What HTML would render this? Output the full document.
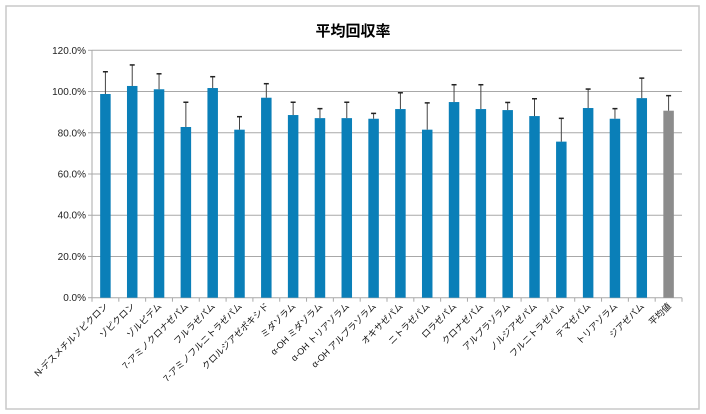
<!DOCTYPE html>
<html><head><meta charset="utf-8"><style>
body{margin:0;background:#fff;}
svg{display:block;font-family:"Liberation Sans","Noto Sans CJK JP",sans-serif;}
</style></head><body>
<svg id="chart" width="706" height="414">
<rect x="6" y="6" width="693" height="403" fill="#fff" stroke="#c8c8c8" stroke-width="1.5"/>
<text x="353" y="36" text-anchor="middle" font-size="15" font-weight="bold" fill="#000">平均回収率</text>
<g id="grid"></g><g id="bars"></g><g id="xlabels"></g>
</svg>
<script>
const categories=["N-デスメチルゾピクロン","ゾピクロン","ゾルピデム","7-アミノクロナゼパム","フルラゼパム","7-アミノフルニトラゼパム","クロルジアゼポキシド","ミダゾラム","α-OH ミダゾラム","α-OH トリアゾラム","α-OH アルプラゾラム","オキサゼパム","ニトラゼパム","ロラゼパム","クロナゼパム","アルプラゾラム","ノルジアゼパム","フルニトラゼパム","テマゼパム","トリアゾラム","ジアゼパム","平均値"];
const values=[98.8,102.7,101.1,82.8,101.7,81.5,97.0,88.6,87.1,87.1,86.8,91.5,81.5,94.9,91.5,91.0,88.1,75.7,92.0,86.8,96.8,90.7];
const errTops=[109.6,112.9,108.6,94.8,107.2,87.8,103.8,94.8,91.7,94.8,89.4,99.4,94.5,103.3,103.3,94.7,96.5,87.0,101.2,91.7,106.5,98.0];
const yTicks=[0,20,40,60,80,100,120];
const tickLabels=["0.0%","20.0%","40.0%","60.0%","80.0%","100.0%","120.0%"];
const X0=92,X1=682,Y0=297.7,Y1=50.3;
const y=v=>Y0-(v/120)*(Y0-Y1);
const step=(X1-X0)/categories.length;
const xc=i=>X0+step*(i+0.5);
const NS="http://www.w3.org/2000/svg";
function mk(tag,attrs,parent){const e=document.createElementNS(NS,tag);for(const k in attrs)e.setAttribute(k,attrs[k]);parent.appendChild(e);return e;}
const grid=document.getElementById('grid'),bars=document.getElementById('bars'),xl=document.getElementById('xlabels');
yTicks.forEach((t,i)=>{
  const l=mk('line',{x1:X0,x2:X1,y1:y(t),y2:y(t),stroke:'#a8a8a8','stroke-width':1},grid);
  
  
  const tk=mk('line',{x1:X0-4,x2:X0,y1:y(t),y2:y(t),stroke:'#a8a8a8'},grid);
  
  
  const tx=mk('text',{x:X0-6,y:y(t)+3.5,'text-anchor':'end','font-size':10,fill:'#222'},grid);
  tx.textContent=tickLabels[i];
  
  
});
const ax=mk('line',{x1:X0,x2:X0,y1:Y1,y2:Y0,stroke:'#a8a8a8'},grid);


for(let i=0;i<=categories.length;i++){
  const t=mk('line',{x1:X0+step*i,x2:X0+step*i,y1:Y0,y2:Y0+4,stroke:'#a8a8a8'},grid);
  
  
}
categories.forEach((c,i)=>{
  const cx=xc(i),w=10.5;
  const last=i===categories.length-1;
  const r=mk('rect',{x:cx-w/2,y:y(values[i]),width:w,height:Y0-y(values[i]),fill:last?'#8c8c8c':'#0a7fb8'},bars);
  
  
  const e=mk('line',{x1:cx,x2:cx,y1:y(errTops[i]),y2:y(values[i]),stroke:'#444','stroke-width':1},bars);
  
  
  const cap=mk('line',{x1:cx-2.5,x2:cx+2.5,y1:y(errTops[i]),y2:y(errTops[i]),stroke:'#222','stroke-width':1.5},bars);
  
  
  const tx=mk('text',{x:0,y:0,'text-anchor':'end','font-size':9,fill:'#111',transform:`translate(${cx+3},${Y0+9}) rotate(-45)`},xl);
  tx.textContent=c;
  
  
});
</script>
</body></html>
